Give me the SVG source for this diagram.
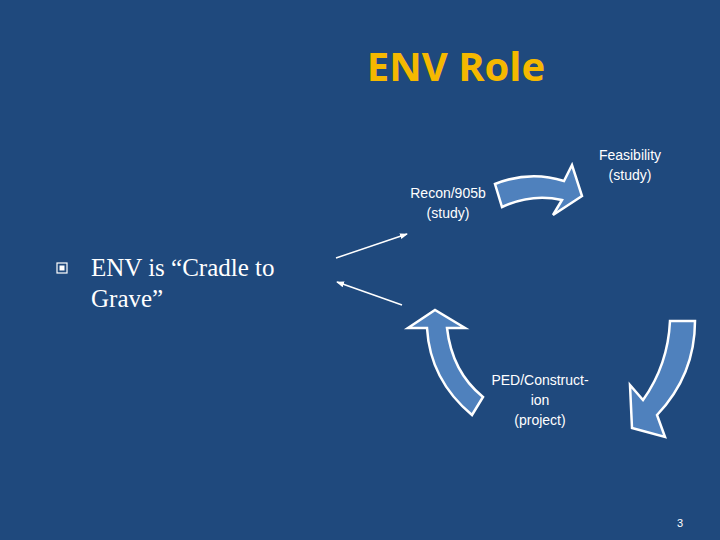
<svg xmlns="http://www.w3.org/2000/svg" width="720" height="540" viewBox="0 0 720 540">
<style>
.cyc{fill:#4f81bd;stroke:#fff;stroke-width:2.5;stroke-linejoin:miter}
.lbl{font-family:"Liberation Sans",Arial,sans-serif;font-size:14px;fill:#fff;text-anchor:middle}
.ln{stroke:#fff;stroke-width:1.5;fill:none}
</style>
<defs><marker id="ah" markerWidth="8" markerHeight="8" refX="7" refY="4" orient="auto" markerUnits="userSpaceOnUse"><path d="M0,1 L8,4 L0,7 Z" fill="#fff"/></marker></defs>
<rect width="720" height="540" fill="#1f497d"/>
<text x="456" y="81" font-family="'Open Sans','DejaVu Sans',sans-serif" font-size="40" font-weight="bold" fill="#f5b800" text-anchor="middle">ENV Role</text>
<g id="bullet"><rect x="57" y="263" width="10" height="10" fill="none" stroke="#fff" stroke-width="1.2"/><rect x="59.5" y="265.5" width="5" height="5" fill="#fff"/>
<text font-family="'Liberation Serif','Times New Roman',serif" font-size="25" fill="#fff"><tspan x="91" y="276">ENV is “Cradle to</tspan><tspan x="91" y="307">Grave”</tspan></text></g>
<g id="recon"><text class="lbl"><tspan x="448" y="198">Recon/905b</tspan><tspan x="448" y="218">(study)</tspan></text></g>
<g id="feas"><text class="lbl"><tspan x="630" y="160">Feasibility</tspan><tspan x="630" y="180">(study)</tspan></text></g>
<g id="ped"><text class="lbl"><tspan x="540" y="385">PED/Construct-</tspan><tspan x="540" y="405">ion</tspan><tspan x="540" y="425">(project)</tspan></text></g>
<g id="connectors">
<path class="cyc" d="M495,184 Q530,170 564,181 L572,165 L582,196 L553,215 L562,200 Q532,193 502,207 Z"/>
<path class="cyc" d="M670,321 L695,321 Q695,375 657,415 L665,437 L632,428 L630,385 L643,400 Q668,365 670,321 Z"/>
<path class="cyc" d="M472,415 Q430,380 427,328 L408,328 L435,310 L465,328 L447,328 Q452,372 483,397 Z"/>
<line class="ln" x1="336" y1="258" x2="407" y2="234" marker-end="url(#ah)"/>
<line class="ln" x1="402" y1="305" x2="337" y2="282" marker-end="url(#ah)"/>
</g>
<text x="680" y="527" font-family="'Liberation Sans',Arial,sans-serif" font-size="11" fill="#fff" text-anchor="middle">3</text>
</svg>
